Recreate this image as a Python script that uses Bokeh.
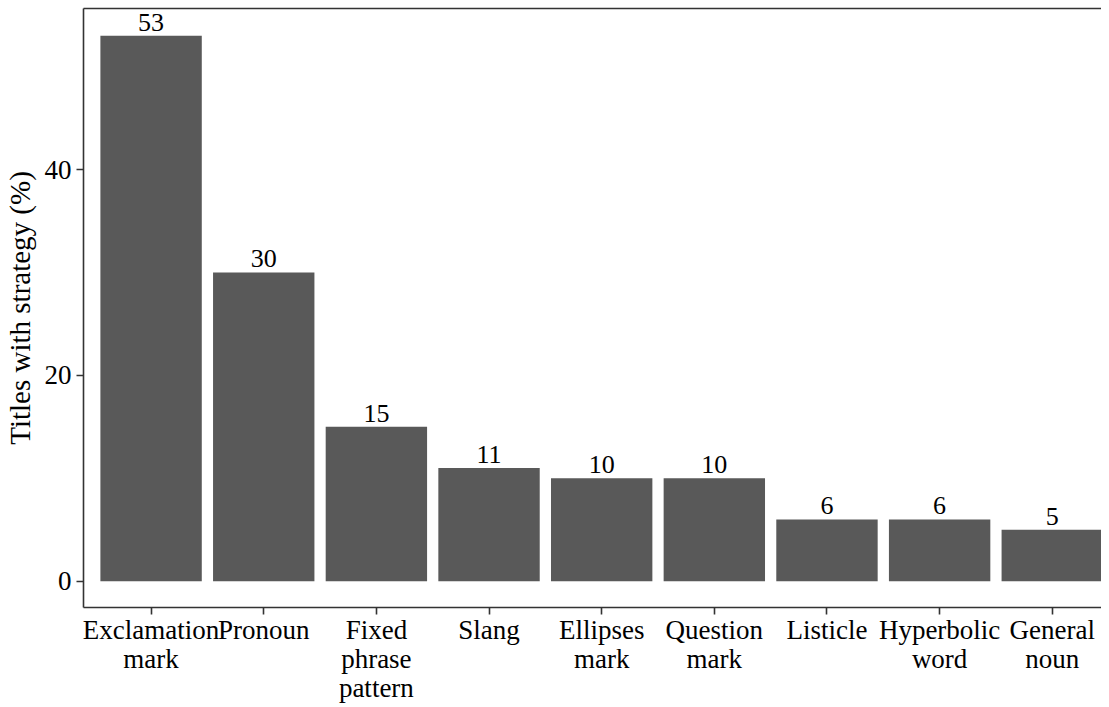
from bokeh.plotting import figure
from bokeh.models import ColumnDataSource, FixedTicker, Range1d, LinearAxis
from bokeh.core.properties import value
from bokeh.embed import file_html
from bokeh.resources import INLINE

categories = ["Exclamation\nmark", "Pronoun", "Fixed\nphrase\npattern", "Slang",
              "Ellipses\nmark", "Question\nmark", "Listicle", "Hyperbolic\nword",
              "General\nnoun"]
values = [53, 30, 15, 11, 10, 10, 6, 6, 5]
y_ticks = [0, 20, 40]

FONT = "Liberation Serif"
xs = list(range(1, len(categories) + 1))
src = ColumnDataSource(dict(x=xs, top=values, label=[str(v) for v in values]))

p = figure(width=1101, height=706, output_backend="svg", toolbar_location=None,
           x_range=Range1d(0.4, 9.437), y_range=Range1d(-2.56, 55.65),
           min_border_left=83, min_border_right=0, min_border_top=8,
           min_border_bottom=99)

p.vbar(x="x", top="top", bottom=0, width=0.9, source=src,
       fill_color="#595959", line_color=None)
p.text(x="x", y="top", text="label", source=src, text_align="center",
       text_baseline="bottom", y_offset=-5, text_font=value(FONT),
       text_font_size="26px", text_color="black")

p.xgrid.visible = False
p.ygrid.visible = False
p.outline_line_color = None

xax = p.below[0]
yax = p.left[0]
xax.ticker = FixedTicker(ticks=xs)
xax.major_label_overrides = {x: c for x, c in zip(xs, categories)}
yax.ticker = FixedTicker(ticks=y_ticks)
yax.axis_label = "Titles with strategy (%)"

for ax in (xax, yax):
    ax.axis_line_color = "#333333"
    ax.axis_line_width = 1.6
    ax.major_tick_line_color = "#333333"
    ax.major_tick_line_width = 1.6
    ax.major_tick_out = 7
    ax.major_tick_in = 0
    ax.minor_tick_line_color = None
    ax.major_label_text_font = FONT
    ax.major_label_text_font_size = "27px"
    ax.major_label_text_color = "black"
    ax.axis_label_text_font = FONT
    ax.axis_label_text_font_size = "29px"
    ax.axis_label_text_font_style = "normal"
    ax.axis_label_text_color = "black"

xax.major_label_standoff = 0
xax.major_label_text_line_height = 0.97
yax.major_label_standoff = 5
yax.axis_label_standoff = 6

top_axis = LinearAxis(ticker=FixedTicker(ticks=[]),
                      axis_line_color="#333333", axis_line_width=1.6,
                      major_tick_line_color=None, minor_tick_line_color=None,
                      major_label_standoff=0)
p.add_layout(top_axis, "above")

open("out.html", "w").write(file_html(p, INLINE))
